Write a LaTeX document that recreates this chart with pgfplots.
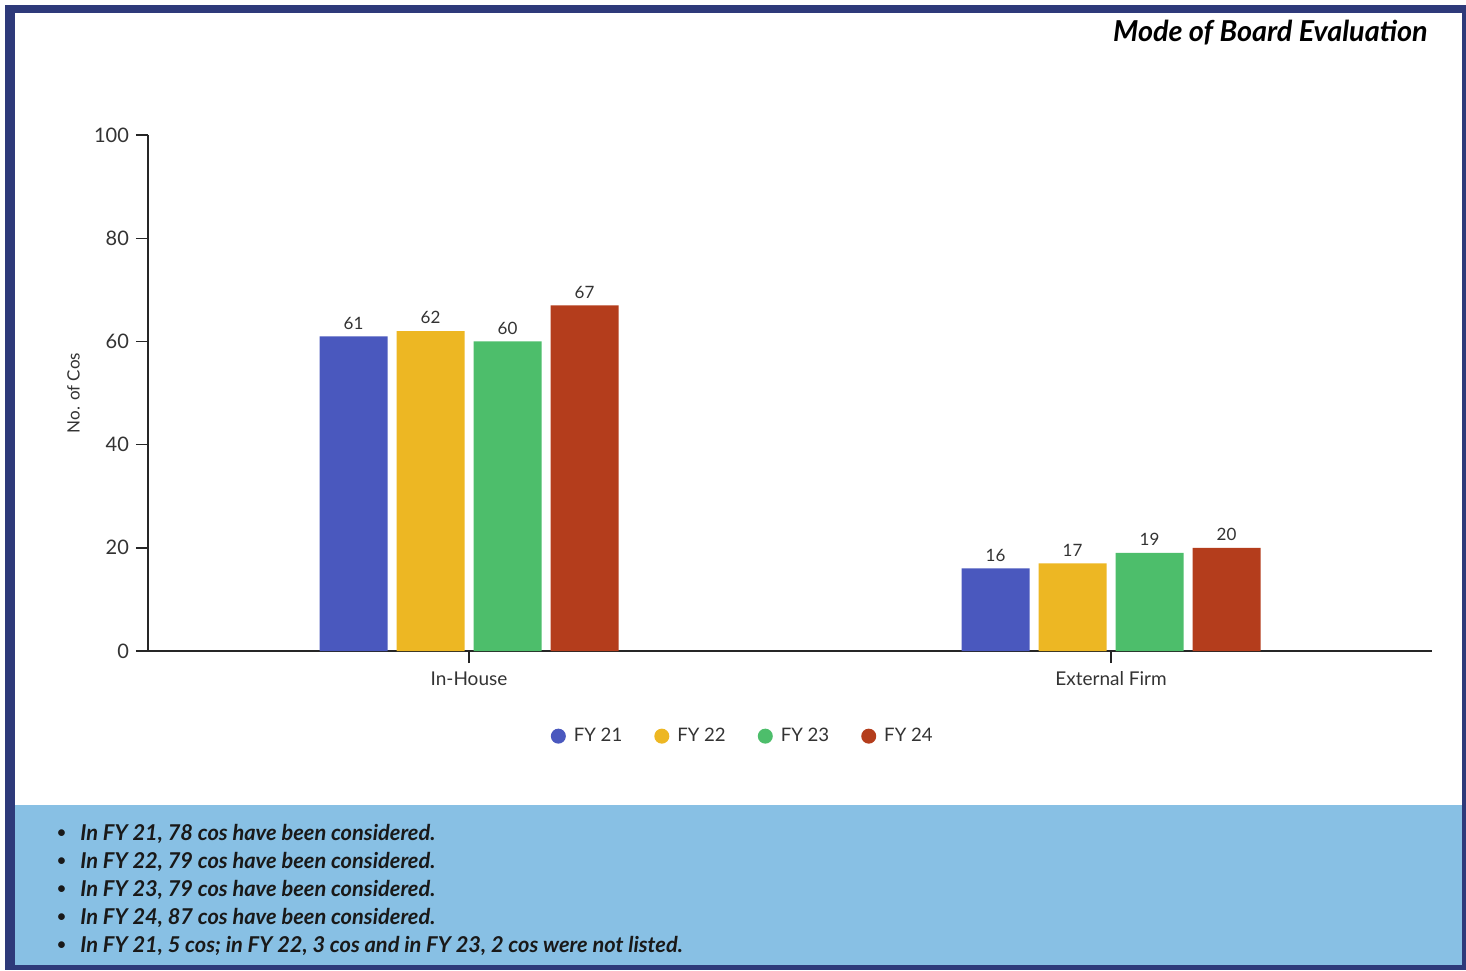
\documentclass[border=0pt]{standalone}
\usepackage{fontspec}
\setmainfont{Lato}
\usepackage{pgfplots}
\pgfplotsset{compat=1.18}

\definecolor{frame}{HTML}{2E3A7A}
\definecolor{notebox}{HTML}{88C0E4}
\definecolor{fyA}{HTML}{4A58BE}
\definecolor{fyB}{HTML}{EDB723}
\definecolor{fyC}{HTML}{4DBE6B}
\definecolor{fyD}{HTML}{B43D1C}
\definecolor{ink}{HTML}{333333}

% categories: 0 = In-House, 1 = External Firm
\pgfplotstableread{
x y
0 61
1 16
}\fyone
\pgfplotstableread{
x y
0 62
1 17
}\fytwo
\pgfplotstableread{
x y
0 60
1 19
}\fythree
\pgfplotstableread{
x y
0 67
1 20
}\fyfour

\begin{document}
\begin{tikzpicture}
% page, frame and notes panel
\fill[white] (0pt,0pt) rectangle (733pt,-485pt);
\fill[frame] (2.5pt,-2.5pt) rectangle (733pt,-485pt);
\fill[white] (7.5pt,-6.5pt) rectangle (731pt,-402.5pt);
\fill[notebox] (7.5pt,-402.5pt) rectangle (731pt,-482.5pt);

\node[anchor=east, inner sep=0pt, font=\fontsize{14.4}{17}\selectfont\bfseries\itshape, text=black]
  at (714pt,-16.5pt) {Mode of Board Evaluation};

\begin{axis}[
  at={(74pt,-325.5pt)}, anchor=south west,
  scale only axis, width=642pt, height=258pt,
  xmin=-0.5, xmax=1.5, ymin=0, ymax=100,
  axis x line=bottom, axis y line=left,
  axis line style={draw=black!85, line width=1pt, -},
  xtick={0,1}, xticklabels={In-House, External Firm},
  ytick={0,20,40,60,80,100},
  tick align=outside, major tick length=6pt,
  tick style={draw=black!85, line width=0.7pt},
  tick label style={font=\fontsize{10}{12}\selectfont, text=ink},
  xticklabel style={font=\fontsize{9.5}{11}\selectfont, text height=7pt, text depth=0pt, yshift=-0.5pt},
  /pgf/number format/assume math mode=true,
  ylabel={No. of Cos},
  ylabel style={font=\fontsize{8.5}{10}\selectfont, text=ink, at={(rel axis cs:-0.058,0.5)}, anchor=center, rotate=0},
  ybar, bar width=34pt,
  nodes near coords,
  every node near coord/.append style={font=\fontsize{8.5}{10}\selectfont, text=ink},
  legend image code/.code={\fill[#1] (0pt,0pt) circle (3.75pt);},
  legend style={draw=none, fill=none, at={(0.464,-0.165)}, anchor=center,
    font=\fontsize{9.3}{11}\selectfont, text=ink,
    /tikz/every odd column/.append style={column sep=2pt},
    /tikz/every even column/.append style={column sep=14pt}},
  legend columns=4,
  clip=false,
]
\addplot[fill=fyA, draw=none, bar shift=-57.75pt] table[x=x,y=y] {\fyone};
\addplot[fill=fyB, draw=none, bar shift=-19.25pt] table[x=x,y=y] {\fytwo};
\addplot[fill=fyC, draw=none, bar shift=19.25pt] table[x=x,y=y] {\fythree};
\addplot[fill=fyD, draw=none, bar shift=57.75pt] table[x=x,y=y] {\fyfour};
\legend{FY 21, FY 22, FY 23, FY 24}
\end{axis}

% notes
\foreach \yy/\txt in {
  -417/{In FY 21, 78 cos have been considered.},
  -431/{In FY 22, 79 cos have been considered.},
  -445/{In FY 23, 79 cos have been considered.},
  -459/{In FY 24, 87 cos have been considered.},
  -473/{In FY 21, 5 cos; in FY 22, 3 cos and in FY 23, 2 cos were not listed.}} {
  \node[anchor=west, inner sep=0pt, font=\fontsize{9}{11}\selectfont, text=black!90] at (28pt,\yy pt) {\textbullet};
  \node[anchor=west, inner sep=0pt, font=\fontsize{10.9}{13}\selectfont\bfseries\itshape, text=black!90] at (40pt,\yy pt) {\txt};
}
\end{tikzpicture}
\end{document}
